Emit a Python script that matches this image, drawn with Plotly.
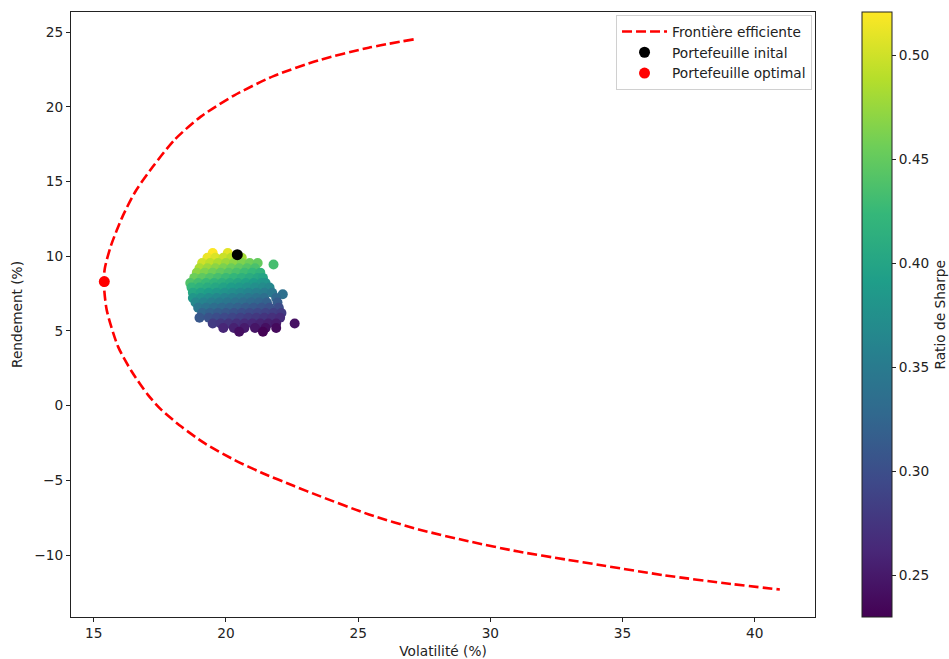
import plotly.graph_objects as go

# Efficient frontier (volatility %, return %)
frontier_vol = [27.10, 25.40, 23.50, 21.80, 20.30, 19.05, 18.05, 17.24, 16.60, 16.10,
                15.65, 15.42, 15.38, 15.49, 15.92, 16.43, 17.05, 17.56, 18.31, 19.19,
                20.32, 21.33, 22.58, 23.50, 25.41, 27.29, 29.17, 31.06, 32.88, 34.07,
                36.58, 39.10, 40.95]
frontier_ret = [24.51, 23.95, 23.10, 22.05, 20.75, 19.34, 17.78, 16.00, 14.40, 12.70,
                10.70, 9.20, 8.30, 6.41, 3.95, 2.30, 0.72, -0.28, -1.40, -2.51,
                -3.63, -4.47, -5.38, -6.02, -7.28, -8.28, -9.07, -9.76, -10.30, -10.64,
                -11.35, -11.93, -12.30]

# Simulated portfolios (rows of the cloud: return value, list of volatilities)
cloud_rows = [
    (10.22, [19.50, 20.07]),
    (9.90, [19.30, 19.60, 19.90, 20.20, 20.60]),
    (9.55, [19.10, 19.40, 19.70, 20.00, 20.30, 20.60, 20.90, 21.20]),
    (9.45, [21.80]),
    (9.20, [19.00, 19.30, 19.60, 19.90, 20.20, 20.50, 20.80, 21.10]),
    (8.90, [18.90, 19.20, 19.50, 19.80, 20.10, 20.40, 20.70, 21.00, 21.30]),
    (8.55, [18.80, 19.10, 19.40, 19.70, 20.00, 20.30, 20.60, 20.90, 21.20, 21.40]),
    (8.20, [18.65, 18.95, 19.25, 19.55, 19.85, 20.15, 20.45, 20.75, 21.05, 21.35, 21.50]),
    (7.90, [18.70, 19.00, 19.30, 19.60, 19.90, 20.20, 20.50, 20.80, 21.10, 21.40, 21.65]),
    (7.55, [18.75, 19.05, 19.35, 19.65, 19.95, 20.25, 20.55, 20.85, 21.15, 21.45, 21.75]),
    (7.45, [22.15]),
    (7.20, [18.75, 19.05, 19.35, 19.65, 19.95, 20.25, 20.55, 20.85, 21.15, 21.45, 21.90]),
    (6.90, [18.85, 19.15, 19.45, 19.75, 20.05, 20.35, 20.65, 20.95, 21.25, 21.55, 21.95]),
    (6.55, [18.95, 19.25, 19.55, 19.85, 20.15, 20.45, 20.75, 21.05, 21.35, 21.65, 22.00]),
    (6.20, [19.10, 19.40, 19.70, 20.00, 20.30, 20.60, 20.90, 21.20, 21.50, 21.80, 22.10]),
    (5.88, [19.00, 19.35, 19.65, 19.95, 20.25, 20.55, 20.85, 21.15, 21.45, 21.75, 22.05]),
    (5.50, [19.50, 19.80, 20.10, 20.40, 20.70, 21.00, 21.30, 21.60, 21.90, 22.60]),
    (5.20, [19.90, 20.30, 20.70, 21.10, 21.50, 21.90]),
    (4.95, [20.50, 21.40]),
]

initial_vol, initial_ret = [20.43], [10.10]
optimal_vol, optimal_ret = [15.40], [8.30]

cloud_vol = [v for r, vs in cloud_rows for v in vs]
cloud_ret = [r for r, vs in cloud_rows for v in vs]
cloud_sharpe = [r / v for v, r in zip(cloud_vol, cloud_ret)]

FONT = "DejaVu Sans"
FS = 13.7

fig = go.Figure()
fig.add_trace(go.Scatter(
    x=cloud_vol, y=cloud_ret, mode="markers", showlegend=False,
    marker=dict(size=10, color=cloud_sharpe, colorscale="Viridis", cmin=0.23, cmax=0.521,
                line=dict(width=0),
                colorbar=dict(
                    x=1.0632, xanchor="left", xpad=0, ypad=0, y=0.5, yanchor="middle",
                    len=1, lenmode="fraction", thickness=30, outlinewidth=1, outlinecolor="#222",
                    ticks="outside", ticklen=4, tickcolor="#222", tickwidth=1,
                    tickvals=[0.25, 0.30, 0.35, 0.40, 0.45, 0.50],
                    ticktext=["0.25", "0.30", "0.35", "0.40", "0.45", "0.50"],
                    tickfont=dict(family=FONT, size=FS, color="#222"),
                )),
))
fig.add_trace(go.Scatter(
    x=frontier_vol, y=frontier_ret, mode="lines", name="Frontière efficiente",
    line=dict(color="#ff0000", width=2.6, dash="10px,4px", shape="spline", smoothing=0.7),
))
fig.add_trace(go.Scatter(
    x=initial_vol, y=initial_ret, mode="markers", name="Portefeuille inital",
    marker=dict(size=11, color="black"),
))
fig.add_trace(go.Scatter(
    x=optimal_vol, y=optimal_ret, mode="markers", name="Portefeuille optimal",
    marker=dict(size=11, color="#ff0000"),
))

axis_common = dict(
    showgrid=False, zeroline=False, showline=True, linecolor="#222", linewidth=1,
    mirror=True, ticks="outside", ticklen=4, tickcolor="#222",
    tickfont=dict(family=FONT, size=FS, color="#222"), automargin=False,
)
fig.update_xaxes(range=[14.14, 42.28], tickvals=[15, 20, 25, 30, 35, 40],
                 title=dict(text="Volatilité (%)", font=dict(family=FONT, size=FS, color="#222"), standoff=6),
                 **axis_common)
fig.update_yaxes(range=[-14.14, 26.34], tickvals=[-10, -5, 0, 5, 10, 15, 20, 25],
                 title=dict(text="Rendement (%)", font=dict(family=FONT, size=FS, color="#222"), standoff=8),
                 **axis_common)

fig.add_annotation(text="Ratio de Sharpe", xref="paper", yref="paper",
                   x=1.168, y=0.5, xanchor="center", yanchor="middle",
                   textangle=-90, showarrow=False,
                   font=dict(family=FONT, size=FS, color="#222"))

fig.update_layout(
    width=949, height=659,
    margin=dict(l=71, r=134, t=12, b=42, autoexpand=False),
    paper_bgcolor="white", plot_bgcolor="white",
    font=dict(family=FONT, size=FS, color="#222"),
    legend=dict(x=0.996, xanchor="right", y=0.995, yanchor="top",
                bgcolor="white", bordercolor="#d0d0d0", borderwidth=1, itemwidth=45,
                font=dict(family=FONT, size=FS, color="#222")),
)

fig.write_html("out.html")
